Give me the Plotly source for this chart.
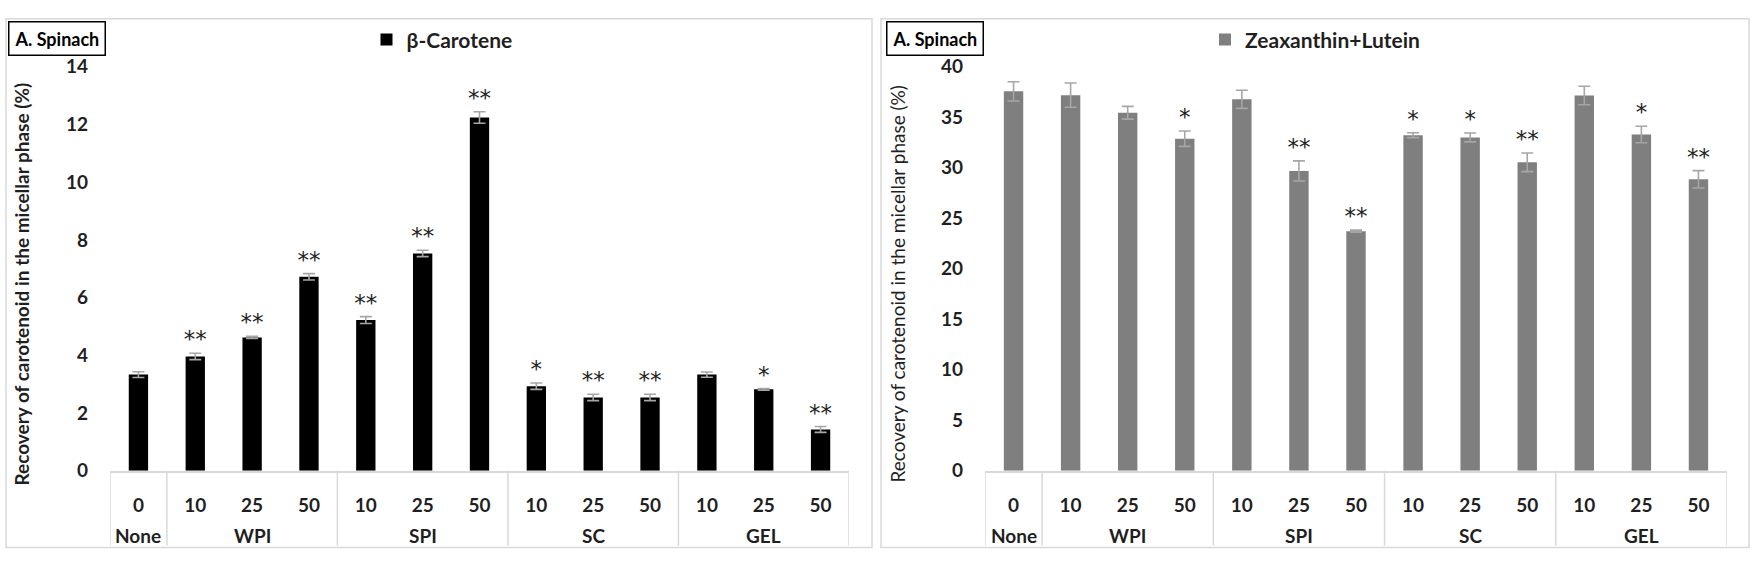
import plotly.graph_objects as go

# ---------------- data ----------------
groups = ["None", "WPI", "WPI", "WPI", "SPI", "SPI", "SPI", "SC", "SC", "SC", "GEL", "GEL", "GEL"]
levels = ["0", "10", "25", "50", "10", "25", "50", "10", "25", "50", "10", "25", "50"]

beta_carotene = [3.33, 3.96, 4.62, 6.72, 5.22, 7.53, 12.24, 2.93, 2.54, 2.54, 3.33, 2.82, 1.43]
beta_err = [0.10, 0.11, 0.04, 0.11, 0.12, 0.11, 0.20, 0.11, 0.11, 0.11, 0.09, 0.03, 0.10]
beta_sig = ["", "**", "**", "**", "**", "**", "**", "*", "**", "**", "", "*", "**"]

zea_lutein = [37.56, 37.18, 35.44, 32.87, 36.77, 29.68, 23.72, 33.22, 33.00, 30.53, 37.15, 33.29, 28.85]
zea_err = [0.95, 1.20, 0.63, 0.76, 0.90, 1.00, 0.10, 0.24, 0.44, 0.92, 0.92, 0.82, 0.86]
zea_sig = ["", "", "", "*", "", "**", "**", "*", "*", "**", "", "*", "**"]

panel_label = "A. Spinach"
y_title = "Recovery of carotenoid in the micellar phase (%)"

# ---------------- layout helpers ----------------
W, H = 1760, 570
def fx(px):
    return px / W
def fy(py):
    return 1 - py / H

FONT = "Lato, 'Open Sans', sans-serif"
STAR_FONT = "'DejaVu Sans', sans-serif"
TXT = "#1f1f1f"
LINE = "#d9d9d9"
ERRC = "#a6a6a6"

# category keys (one per bar), labelled by level on the axis
cats = [f"{g} {l}" for g, l in zip(groups, levels)]

# runs of identical group names -> (name, first index, last index)
runs = []
for i, g in enumerate(groups):
    if runs and runs[-1][0] == g:
        runs[-1][2] = i
    else:
        runs.append([g, i, i])

fig = go.Figure()

panels = [
    dict(x="x", y="y", vals=beta_carotene, err=beta_err, sig=beta_sig,
         name="β-Carotene", color="#000000", legend="legend"),
    dict(x="x2", y="y2", vals=zea_lutein, err=zea_err, sig=zea_sig,
         name="Zeaxanthin+Lutein", color="#7f7f7f", legend="legend2"),
]

for p in panels:
    fig.add_trace(go.Bar(
        x=cats, y=p["vals"], name=p["name"],
        marker=dict(color=p["color"], line=dict(width=0)),
        error_y=dict(type="data", array=p["err"], color=ERRC, thickness=1.6, width=6),
        xaxis=p["x"], yaxis=p["y"], legend=p["legend"], showlegend=True,
    ))
    fig.add_trace(go.Scatter(
        x=cats, y=[v + e for v, e in zip(p["vals"], p["err"])], text=p["sig"],
        mode="text", textposition="top center",
        textfont=dict(family=STAR_FONT, size=23, color="#222222"),
        xaxis=p["x"], yaxis=p["y"], showlegend=False, cliponaxis=False,
    ))
    # group labels and dividers of the category box
    for name, a, b in runs:
        fig.add_annotation(xref=p["x"], yref="paper", x=(a + b) / 2, y=fy(545),
                           xanchor="center", yanchor="middle", showarrow=False,
                           text=name, font=dict(family=FONT, size=19, color=TXT, weight="bold"))
        fig.add_shape(type="line", xref=p["x"], yref="paper", x0=a - 0.5, x1=a - 0.5,
                      y0=fy(478), y1=fy(556), line=dict(color=LINE, width=1.5))
    last = runs[-1][2] + 0.5
    fig.add_shape(type="line", xref=p["x"], yref="paper", x0=last, x1=last,
                  y0=fy(478), y1=fy(556), line=dict(color=LINE, width=1.5))

tickfont = dict(family=FONT, size=19, color=TXT, weight="bold")

xcommon = dict(
    type="category", tickmode="array", tickvals=cats, ticktext=levels,
    showline=True, linecolor=LINE, linewidth=1.5, range=[-0.5, len(cats) - 0.5],
    ticks="", ticklabelstandoff=17, showgrid=False, zeroline=False,
    tickfont=tickfont, fixedrange=True, tickangle=0,
)
ycommon = dict(
    showgrid=False, zeroline=False, showline=False, ticks="",
    tickfont=tickfont, ticklabelstandoff=21, fixedrange=True,
)

legend_font = dict(family=FONT, size=21, color=TXT, weight="bold")

fig.update_layout(
    width=W, height=H,
    margin=dict(l=0, r=0, t=0, b=0),
    paper_bgcolor="white", plot_bgcolor="white",
    bargap=0.66,
    font=dict(family=FONT, color=TXT),
    xaxis=dict(domain=[fx(110), fx(849)], anchor="y", **xcommon),
    yaxis=dict(domain=[fy(478), fy(57)], anchor="x", range=[0, 14], dtick=2, **ycommon),
    xaxis2=dict(domain=[fx(985), fx(1727)], anchor="y2", **xcommon),
    yaxis2=dict(domain=[fy(478), fy(57)], anchor="x2", range=[0, 40], dtick=5, **ycommon),
    legend=dict(x=fx(442), y=fy(29), xanchor="center", yanchor="middle",
                font=legend_font, bgcolor="rgba(0,0,0,0)", itemwidth=30),
    legend2=dict(x=fx(1315), y=fy(29), xanchor="center", yanchor="middle",
                 font=legend_font, bgcolor="rgba(0,0,0,0)", itemwidth=30),
    showlegend=True,
)

# panel borders
for x0, x1 in [(6, 872), (881, 1749)]:
    fig.add_shape(type="rect", xref="paper", yref="paper",
                  x0=fx(x0), x1=fx(x1), y0=fy(558), y1=fy(7),
                  line=dict(color=LINE, width=1.5), fillcolor="rgba(0,0,0,0)", layer="below")

# panel labels
for xl in [8, 886]:
    fig.add_annotation(xref="paper", yref="paper", x=fx(xl), y=fy(9),
                       xanchor="left", yanchor="top", showarrow=False,
                       text=panel_label, bordercolor="#000000", borderwidth=1.5, borderpad=5,
                       bgcolor="white",
                       font=dict(family=FONT, size=18, color="#000000", weight="bold"))

# y-axis titles
fig.add_annotation(xref="paper", yref="paper", x=fx(22), y=fy(284),
                   xanchor="center", yanchor="middle", showarrow=False, textangle=-90,
                   text=y_title, font=dict(family=FONT, size=19, color=TXT, weight="bold"))
fig.add_annotation(xref="paper", yref="paper", x=fx(898), y=fy(284),
                   xanchor="center", yanchor="middle", showarrow=False, textangle=-90,
                   text=y_title, font=dict(family=FONT, size=19, color=TXT))

fig.write_html("out.html", config={"displayModeBar": False},
               post_script="document.body.style.margin='0';document.body.style.overflow='hidden';")
